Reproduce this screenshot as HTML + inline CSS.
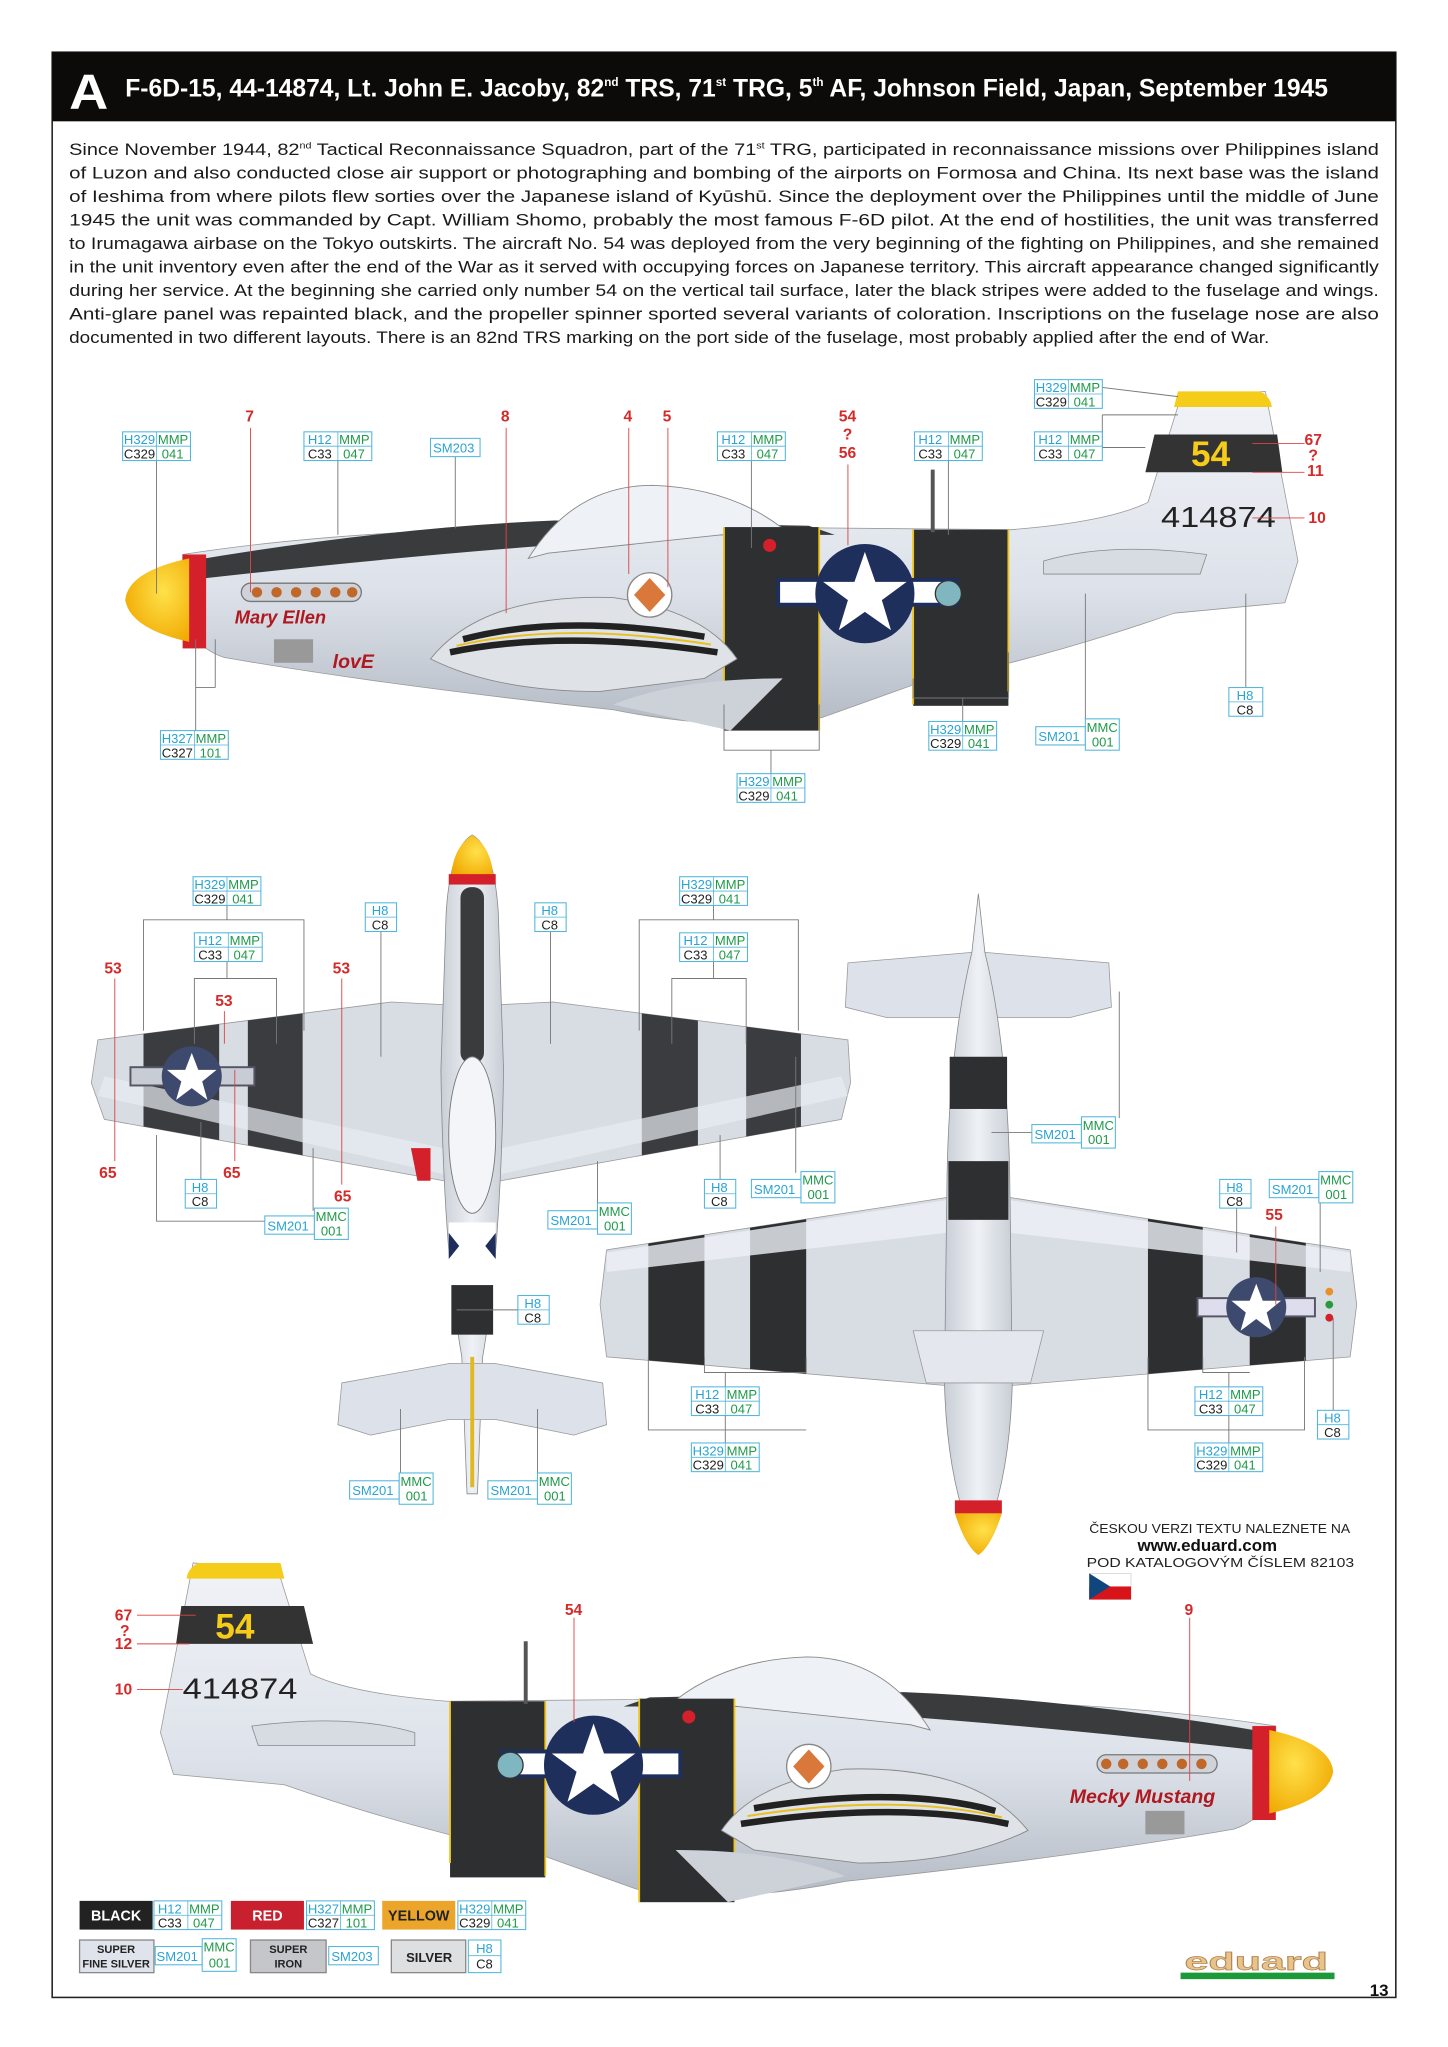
<!DOCTYPE html>
<html><head><meta charset="utf-8"><style>
html,body{margin:0;padding:0;background:#fff}
svg{display:block}
.cb{fill:#fff;stroke:#4fb6dc;stroke-width:.8}
.cl{stroke:#4fb6dc;stroke-width:.6}
text{font-family:"Liberation Sans",sans-serif}
.bl{fill:#2aa3d4;font-size:10px}
.gr{fill:#1f9a4a;font-size:10px}
.bk{fill:#222;font-size:10px}
.rd{fill:#d42a2a;font-size:12px;font-weight:bold}
.ld{stroke:#777;stroke-width:.7;fill:none}
.rl{stroke:#d44;stroke-width:.7}
.bd{fill:#2e2f31}
.ye{stroke:#f0c419;stroke-width:1.4}
</style></head><body>
<svg width="1448" height="2047" viewBox="0 0 1110 1569" preserveAspectRatio="none" xmlns="http://www.w3.org/2000/svg">
<defs>
<linearGradient id="sv" x1="0" y1="0" x2="0" y2="1"><stop offset="0" stop-color="#f1f3f7"/><stop offset=".6" stop-color="#dde2ea"/><stop offset="1" stop-color="#b5bbc5"/></linearGradient>
<linearGradient id="svh" x1="0" y1="0" x2="1" y2="0"><stop offset="0" stop-color="#c9ced6"/><stop offset=".5" stop-color="#eef1f5"/><stop offset="1" stop-color="#c9ced6"/></linearGradient>
<radialGradient id="ys" cx=".6" cy=".4" r=".7"><stop offset="0" stop-color="#ffe14a"/><stop offset="1" stop-color="#f0a800"/></radialGradient>
<g id="side">
 <path d="M140,425 Q300,400 560,404 L775,406 Q850,400 880,385 L905,305 L970,300 L995,430 L985,462 L900,470 Q800,505 700,525 L630,550 Q560,562 470,544 Q300,526 172,504 Q142,494 140,460 Z" fill="url(#sv)" stroke="#999" stroke-width=".6"/>
 <path d="M145,430 Q300,404 425,399 L620,403 L640,410 L560,410 Q400,416 150,444 Z" fill="#3a3b3d"/>
 <path d="M405,428 Q440,372 500,372 Q560,374 600,405 L420,424 Z" fill="#eef2f7" stroke="#888" stroke-width=".7"/>
 <path d="M903,300 L966,300 Q974,304 975,312 L900,312 Z" fill="#f5cc1a"/>
 <path d="M885,333 L979,333 L983,362 L878,362 Z" fill="#333"/>
 <rect x="555" y="404" width="73" height="156" class="bd"/>
 <rect x="700" y="406" width="73" height="135" class="bd"/>
 <line x1="555" y1="404" x2="555" y2="555" class="ye"/><line x1="628" y1="404" x2="628" y2="560" class="ye"/>
 <line x1="700" y1="406" x2="700" y2="540" class="ye"/><line x1="773" y1="406" x2="773" y2="530" class="ye"/>
 <rect x="595" y="443" width="140" height="22" fill="#1f2f5c"/><rect x="598" y="446" width="134" height="16" fill="#fff"/>
 <circle cx="663" cy="455" r="38" fill="#1f2f5c"/>
 <polygon points="663,423 671,446 695,446 676,460 683,483 663,469 643,483 650,460 631,446 655,446" fill="#fff"/>
 <circle cx="727" cy="455" r="10" fill="#7fb6c0" stroke="#333"/>
 <path d="M330,505 Q370,455 470,458 Q540,468 565,505 L540,520 L460,530 Q380,530 330,505Z" fill="#dfe2e7" stroke="#888" stroke-width=".7"/>
 <path d="M355,490 Q430,470 540,488" stroke="#222" stroke-width="5" fill="none"/>
 <path d="M345,500 Q430,482 550,500" stroke="#222" stroke-width="5" fill="none"/>
 <path d="M350,495 Q430,476 545,494" stroke="#e8c020" stroke-width="1.5" fill="none"/>
 <path d="M470,540 Q520,520 600,520 L560,560 Z" fill="#cdd1d8"/>
 <path d="M800,430 Q850,415 925,425 L920,440 L800,440 Z" fill="#d7dbe2" stroke="#888" stroke-width=".6"/>
 <rect x="185" y="447" width="92" height="14" rx="7" fill="#cfd3d9" stroke="#777"/>
 <g fill="#c0682a"><circle cx="197" cy="454" r="4"/><circle cx="212" cy="454" r="4"/><circle cx="227" cy="454" r="4"/><circle cx="242" cy="454" r="4"/><circle cx="257" cy="454" r="4"/><circle cx="270" cy="454" r="4"/></g>
 <rect x="210" y="490" width="30" height="18" fill="#999"/>
 <line x1="715" y1="360" x2="715" y2="408" stroke="#555" stroke-width="3"/>
 <rect x="140" y="425" width="18" height="72" fill="#d4202a"/>
 <path d="M145,428 Q98,438 96,460 Q100,482 145,492 Z" fill="url(#ys)"/>
 <circle cx="498" cy="456" r="17" fill="#fff" stroke="#888"/><polygon points="498,443 510,456 498,469 486,456" fill="#d9783a"/>
 <circle cx="590" cy="418" r="5" fill="#d4202a"/>
</g>
<clipPath id="lw"><path d="M340,770 L300,768 L75,797 L70,830 L80,858 L340,905 L384,905 L645,858 L652,830 L650,797 L424,768 L384,770Z"/></clipPath>
<clipPath id="rw"><path d="M725,918 L465,958 L460,1000 L465,1040 L725,1062 L775,1062 L1035,1040 L1040,1000 L1035,958 L775,918Z"/></clipPath>
</defs>

<rect x="40" y="40" width="1030" height="1491" fill="#fff" stroke="#222" stroke-width="1.2"/>
<rect x="40" y="40" width="1030" height="53" fill="#0d0b0a"/>
<text x="53" y="83" fill="#fff" font-size="38" font-weight="bold" textLength="30" lengthAdjust="spacingAndGlyphs">A</text>
<text x="96" y="74" fill="#fff" font-size="19" font-weight="bold" textLength="922" lengthAdjust="spacingAndGlyphs">F-6D-15, 44-14874, Lt. John E. Jacoby, 82<tspan font-size="9" dy="-8">nd</tspan><tspan dy="8"> TRS, 71</tspan><tspan font-size="9" dy="-8">st</tspan><tspan dy="8"> TRG, 5</tspan><tspan font-size="9" dy="-8">th</tspan><tspan dy="8"> AF, Johnson Field, Japan, September 1945</tspan></text>

<g font-size="13" fill="#1a1a1a">
<text x="53" y="119" textLength="1004" lengthAdjust="spacingAndGlyphs">Since November 1944, 82<tspan font-size="7" dy="-5">nd</tspan><tspan dy="5"> Tactical Reconnaissance Squadron, part of the 71</tspan><tspan font-size="7" dy="-5">st</tspan><tspan dy="5"> TRG, participated in reconnaissance missions over Philippines island</tspan></text>
<text x="53" y="137" textLength="1004" lengthAdjust="spacingAndGlyphs">of Luzon and also conducted close air support or photographing and bombing of the airports on Formosa and China. Its next base was the island</text>
<text x="53" y="155" textLength="1004" lengthAdjust="spacingAndGlyphs">of Ieshima from where  pilots flew sorties over the Japanese island of Kyūshū. Since the deployment over the Philippines until the middle of June</text>
<text x="53" y="173" textLength="1004" lengthAdjust="spacingAndGlyphs">1945 the unit was commanded by Capt. William Shomo, probably the most famous F-6D pilot. At the end of hostilities, the unit was transferred</text>
<text x="53" y="191" textLength="1004" lengthAdjust="spacingAndGlyphs">to Irumagawa airbase on the Tokyo outskirts. The aircraft No. 54 was deployed from the very beginning of the fighting on Philippines, and she remained</text>
<text x="53" y="209" textLength="1004" lengthAdjust="spacingAndGlyphs">in the unit inventory even after the end of the War as it served with occupying forces on Japanese territory. This  aircraft appearance changed significantly</text>
<text x="53" y="227" textLength="1004" lengthAdjust="spacingAndGlyphs">during her service. At the beginning  she carried only number 54 on the vertical tail surface, later the black stripes were added to the fuselage and wings.</text>
<text x="53" y="245" textLength="1004" lengthAdjust="spacingAndGlyphs">Anti-glare panel was repainted black, and the propeller spinner sported several variants of coloration. Inscriptions on the fuselage nose are also</text>
<text x="53" y="263" textLength="920" lengthAdjust="spacingAndGlyphs">documented in two different layouts. There is an 82nd TRS marking on the port side of the fuselage, most probably applied after the end of War.</text>
</g>

<use href="#side"/>
<text x="913" y="357" fill="#f5cc1a" font-size="27" font-weight="bold">54</text>
<text x="890" y="404" fill="#222" font-size="22" textLength="88" lengthAdjust="spacingAndGlyphs">414874</text>
<text x="180" y="478" fill="#b01820" font-size="14" font-style="italic" font-weight="bold" font-family="Liberation Serif,serif">Mary Ellen</text>
<text x="255" y="512" fill="#b01820" font-size="15" font-weight="bold" font-style="italic">lovE</text>

<g class="ld">
<line x1="120" y1="353" x2="120" y2="455"/><line x1="259" y1="353" x2="259" y2="410"/><line x1="349" y1="350" x2="349" y2="405"/>
<line x1="576" y1="353" x2="576" y2="420"/><line x1="727" y1="353" x2="727" y2="410"/>
<line x1="845" y1="297" x2="903" y2="304"/><line x1="845" y1="343" x2="878" y2="343"/><line x1="845" y1="318" x2="903" y2="318"/><line x1="845" y1="318" x2="845" y2="343"/>
<line x1="955" y1="527" x2="955" y2="455"/><line x1="150" y1="560" x2="150" y2="490"/><line x1="150" y1="527" x2="165" y2="527"/><line x1="165" y1="527" x2="165" y2="490"/>
<polyline points="700,520 700,535 773,535 773,500"/><line x1="738" y1="535" x2="738" y2="553"/>
<line x1="832" y1="551" x2="832" y2="455"/>
<polyline points="555,540 555,575 628,575 628,540"/><line x1="591" y1="575" x2="591" y2="593"/>
</g>
<g class="rl"><line x1="192" y1="328" x2="192" y2="454"/><line x1="388" y1="328" x2="388" y2="470"/><line x1="482" y1="328" x2="482" y2="440"/><line x1="512" y1="328" x2="512" y2="450"/><line x1="650" y1="356" x2="650" y2="418"/><line x1="960" y1="340" x2="1000" y2="340"/><line x1="960" y1="362" x2="1000" y2="362"/><line x1="960" y1="397" x2="1000" y2="397"/></g>
<g class="rd"><text x="188" y="323">7</text><text x="384" y="323">8</text><text x="478" y="323">4</text><text x="508" y="323">5</text><text x="643" y="323">54</text><text x="646" y="337">?</text><text x="643" y="351">56</text><text x="1000" y="341">67</text><text x="1003" y="353">?</text><text x="1002" y="365">11</text><text x="1003" y="401">10</text></g>

<path d="M340,770 L300,768 L75,797 L70,830 L80,858 L340,905 L384,905 L645,858 L652,830 L650,797 L424,768 L384,770Z" fill="#d8dce3" stroke="#999" stroke-width=".6"/>
<g clip-path="url(#lw)">
<rect x="110" y="760" width="58" height="160" fill="#3a3c40"/><rect x="190" y="760" width="42" height="160" fill="#3a3c40"/>
<rect x="492" y="760" width="43" height="160" fill="#3a3c40"/><rect x="572" y="760" width="42" height="160" fill="#3a3c40"/>
<path d="M75,840 L340,900 L340,880 L80,825Z" fill="#e8ecf2" opacity=".7"/><path d="M650,840 L384,900 L384,880 L645,825Z" fill="#e8ecf2" opacity=".7"/>
</g>
<rect x="100" y="818" width="95" height="14" fill="#c8ccd4" stroke="#556" stroke-width="1.5"/>
<circle cx="147" cy="825" r="23" fill="#3d4a6e"/><polygon points="147,807 152,820 166,820 155,829 159,843 147,834 135,843 139,829 128,820 142,820" fill="#fff"/>
<path d="M362,640 Q345,650 342,700 L338,820 Q340,960 354,1040 L358,1145 L366,1145 L370,1040 Q384,960 386,820 L382,700 Q379,650 362,640Z" fill="url(#svh)" stroke="#888" stroke-width=".6"/>
<rect x="353" y="680" width="18" height="135" rx="8" fill="#3a3b3d"/>
<ellipse cx="362" cy="870" rx="18" ry="60" fill="#f3f5f8" stroke="#777" stroke-width=".7"/>
<rect x="344" y="937" width="36" height="48" fill="#fff"/><path d="M344,945 l8,10 l-8,10z M380,945 l-8,10 l8,10z" fill="#1f2f5c"/>
<rect x="346" y="985" width="32" height="38" class="bd"/>
<path d="M362,640 Q347,650 346,672 L378,672 Q377,650 362,640Z" fill="url(#ys)"/><rect x="344" y="670" width="36" height="8" fill="#d4202a"/>
<path d="M262,1060 L345,1045 L379,1045 L462,1060 L465,1092 L440,1100 L380,1088 L344,1088 L284,1100 L259,1092Z" fill="#dde2ea" stroke="#999" stroke-width=".6"/>
<line x1="362" y1="1040" x2="362" y2="1140" stroke="#e0b820" stroke-width="3"/>
<path d="M315,880 L330,880 L330,905 L320,905Z" fill="#d4202a"/>
<g class="ld">
<polyline points="110,790 110,705 233,705 233,790"/><line x1="174" y1="694" x2="174" y2="705"/>
<polyline points="149,800 149,750 212,750 212,800"/><line x1="174" y1="737" x2="174" y2="750"/>
<polyline points="490,790 490,705 612,705 612,790"/><line x1="547" y1="694" x2="547" y2="705"/>
<polyline points="515,800 515,750 572,750 572,800"/><line x1="547" y1="737" x2="547" y2="750"/>
<line x1="292" y1="714" x2="292" y2="810"/><line x1="422" y1="714" x2="422" y2="800"/>
<polyline points="120,870 120,936 203,936"/><line x1="154" y1="904" x2="154" y2="860"/><line x1="240" y1="928" x2="240" y2="880"/>
<line x1="458" y1="924" x2="458" y2="890"/><line x1="552" y1="904" x2="552" y2="870"/><line x1="610" y1="899" x2="610" y2="810"/>
<line x1="420" y1="1004" x2="350" y2="1004"/><line x1="307" y1="1131" x2="307" y2="1080"/><line x1="412" y1="1131" x2="412" y2="1080"/>
</g>
<g class="rl"><line x1="88" y1="750" x2="88" y2="890"/><line x1="262" y1="750" x2="262" y2="908"/><line x1="172" y1="775" x2="172" y2="800"/><line x1="180" y1="820" x2="180" y2="890"/></g>
<g class="rd"><text x="80" y="746">53</text><text x="255" y="746">53</text><text x="165" y="771">53</text><text x="76" y="903">65</text><text x="171" y="903">65</text><text x="256" y="921">65</text><text x="970" y="935">55</text></g>

<path d="M725,918 L465,958 L460,1000 L465,1040 L725,1062 L775,1062 L1035,1040 L1040,1000 L1035,958 L775,918Z" fill="#d8dce3" stroke="#999" stroke-width=".6"/>
<g clip-path="url(#rw)">
<rect x="497" y="900" width="43" height="170" class="bd"/><rect x="575" y="900" width="43" height="170" class="bd"/>
<rect x="880" y="900" width="42" height="170" class="bd"/><rect x="958" y="900" width="43" height="170" class="bd"/>
<path d="M465,960 L725,920 L725,945 L465,975Z" fill="#eef1f6" opacity=".8"/><path d="M1035,960 L775,920 L775,945 L1035,975Z" fill="#eef1f6" opacity=".8"/>
</g>
<rect x="918" y="995" width="90" height="14" fill="#dde" stroke="#556" stroke-width="1.5"/>
<circle cx="963" cy="1002" r="23" fill="#3d4a6e"/><polygon points="963,984 968,997 982,997 971,1006 975,1020 963,1011 951,1020 955,1006 944,997 958,997" fill="#fff"/>
<circle cx="1019" cy="990" r="3" fill="#e8902a"/><circle cx="1019" cy="1000" r="3" fill="#2a9a3a"/><circle cx="1019" cy="1010" r="3" fill="#d4202a"/>
<path d="M650,738 L745,730 L755,730 L850,738 L852,772 L820,780 L680,780 L648,772Z" fill="#dde2ea" stroke="#999" stroke-width=".6"/>
<path d="M750,685 L745,730 Q728,800 726,900 L724,1060 Q726,1140 750,1190 Q774,1140 776,1060 L774,900 Q772,800 755,730Z" fill="url(#svh)" stroke="#888" stroke-width=".6"/>
<rect x="728" y="810" width="44" height="40" class="bd"/><rect x="727" y="890" width="46" height="45" class="bd"/>
<path d="M700,1020 L800,1020 L790,1060 L710,1060Z" fill="#e4e8ee" stroke="#999" stroke-width=".6"/>
<rect x="732" y="1150" width="36" height="10" fill="#d4202a"/><path d="M732,1160 L768,1160 Q760,1185 750,1192 Q740,1185 732,1160Z" fill="url(#ys)"/>
<g class="ld">
<line x1="791" y1="868" x2="760" y2="868"/><line x1="858" y1="857" x2="858" y2="760"/><line x1="948" y1="926" x2="948" y2="960"/><line x1="1012" y1="922" x2="1012" y2="975"/>
<polyline points="540,1040 540,1052 618,1052 618,1040"/><polyline points="497,1040 497,1096 618,1096"/><line x1="556" y1="1052" x2="556" y2="1063"/><line x1="556" y1="1085" x2="556" y2="1106"/>
<polyline points="880,1040 880,1096 1000,1096 1000,1040"/><polyline points="922,1040 922,1052 958,1052"/><line x1="942" y1="1052" x2="942" y2="1063"/><line x1="942" y1="1085" x2="942" y2="1106"/>
<line x1="1022" y1="1081" x2="1022" y2="1010"/>
</g>
<line x1="978" y1="940" x2="978" y2="1000" class="rl"/>

<use href="#side" transform="translate(1118,898) scale(-1,1)"/>
<text x="165" y="1256" fill="#f5cc1a" font-size="27" font-weight="bold">54</text>
<text x="140" y="1302" fill="#222" font-size="22" textLength="88" lengthAdjust="spacingAndGlyphs">414874</text>
<text x="820" y="1382" fill="#b01820" font-size="15" font-style="italic" font-weight="bold" font-family="Liberation Serif,serif">Mecky Mustang</text>
<g class="rl"><line x1="440" y1="1240" x2="440" y2="1320"/><line x1="912" y1="1240" x2="912" y2="1365"/><line x1="105" y1="1238" x2="150" y2="1238"/><line x1="105" y1="1260" x2="145" y2="1260"/><line x1="105" y1="1295" x2="140" y2="1295"/></g>
<g class="rd"><text x="433" y="1238">54</text><text x="908" y="1238">9</text><text x="88" y="1242">67</text><text x="92" y="1254">?</text><text x="88" y="1264">12</text><text x="88" y="1299">10</text></g>

<g id="calls">
<g transform="translate(94,331)"><rect width="52" height="22" class="cb"/><line x1="26" y1="0" x2="26" y2="22" class="cl"/><line x1="0" y1="11" x2="52" y2="11" class="cl"/><text x="1" y="9.5" class="bl">H329</text><text x="27" y="9.5" class="gr">MMP</text><text x="1" y="20.5" class="bk">C329</text><text x="30" y="20.5" class="gr">041</text></g>
<g transform="translate(233,331)"><rect width="52" height="22" class="cb"/><line x1="26" y1="0" x2="26" y2="22" class="cl"/><line x1="0" y1="11" x2="52" y2="11" class="cl"/><text x="3" y="9.5" class="bl">H12</text><text x="27" y="9.5" class="gr">MMP</text><text x="3" y="20.5" class="bk">C33</text><text x="30" y="20.5" class="gr">047</text></g>
<g transform="translate(330,336)"><rect width="38" height="14" class="cb"/><text x="2" y="11" class="bl">SM203</text></g>
<g transform="translate(550,331)"><rect width="52" height="22" class="cb"/><line x1="26" y1="0" x2="26" y2="22" class="cl"/><line x1="0" y1="11" x2="52" y2="11" class="cl"/><text x="3" y="9.5" class="bl">H12</text><text x="27" y="9.5" class="gr">MMP</text><text x="3" y="20.5" class="bk">C33</text><text x="30" y="20.5" class="gr">047</text></g>
<g transform="translate(701,331)"><rect width="52" height="22" class="cb"/><line x1="26" y1="0" x2="26" y2="22" class="cl"/><line x1="0" y1="11" x2="52" y2="11" class="cl"/><text x="3" y="9.5" class="bl">H12</text><text x="27" y="9.5" class="gr">MMP</text><text x="3" y="20.5" class="bk">C33</text><text x="30" y="20.5" class="gr">047</text></g>
<g transform="translate(793,291)"><rect width="52" height="22" class="cb"/><line x1="26" y1="0" x2="26" y2="22" class="cl"/><line x1="0" y1="11" x2="52" y2="11" class="cl"/><text x="1" y="9.5" class="bl">H329</text><text x="27" y="9.5" class="gr">MMP</text><text x="1" y="20.5" class="bk">C329</text><text x="30" y="20.5" class="gr">041</text></g>
<g transform="translate(793,331)"><rect width="52" height="22" class="cb"/><line x1="26" y1="0" x2="26" y2="22" class="cl"/><line x1="0" y1="11" x2="52" y2="11" class="cl"/><text x="3" y="9.5" class="bl">H12</text><text x="27" y="9.5" class="gr">MMP</text><text x="3" y="20.5" class="bk">C33</text><text x="30" y="20.5" class="gr">047</text></g>
<g transform="translate(942,527)"><rect width="26" height="22" class="cb"/><line x1="0" y1="11" x2="26" y2="11" class="cl"/><text x="6" y="9.5" class="bl">H8</text><text x="6" y="20.5" class="bk">C8</text></g>
<g transform="translate(123,560)"><rect width="52" height="22" class="cb"/><line x1="26" y1="0" x2="26" y2="22" class="cl"/><line x1="0" y1="11" x2="52" y2="11" class="cl"/><text x="1" y="9.5" class="bl">H327</text><text x="27" y="9.5" class="gr">MMP</text><text x="1" y="20.5" class="bk">C327</text><text x="30" y="20.5" class="gr">101</text></g>
<g transform="translate(712,553)"><rect width="52" height="22" class="cb"/><line x1="26" y1="0" x2="26" y2="22" class="cl"/><line x1="0" y1="11" x2="52" y2="11" class="cl"/><text x="1" y="9.5" class="bl">H329</text><text x="27" y="9.5" class="gr">MMP</text><text x="1" y="20.5" class="bk">C329</text><text x="30" y="20.5" class="gr">041</text></g>
<g transform="translate(794,551)"><rect y="6" width="38" height="14" class="cb"/><rect x="38" width="26" height="24" class="cb"/><text x="2" y="17" class="bl">SM201</text><text x="39" y="10" class="gr">MMC</text><text x="43" y="21" class="gr">001</text></g>
<g transform="translate(565,593)"><rect width="52" height="22" class="cb"/><line x1="26" y1="0" x2="26" y2="22" class="cl"/><line x1="0" y1="11" x2="52" y2="11" class="cl"/><text x="1" y="9.5" class="bl">H329</text><text x="27" y="9.5" class="gr">MMP</text><text x="1" y="20.5" class="bk">C329</text><text x="30" y="20.5" class="gr">041</text></g>

<g transform="translate(148,672)"><rect width="52" height="22" class="cb"/><line x1="26" y1="0" x2="26" y2="22" class="cl"/><line x1="0" y1="11" x2="52" y2="11" class="cl"/><text x="1" y="9.5" class="bl">H329</text><text x="27" y="9.5" class="gr">MMP</text><text x="1" y="20.5" class="bk">C329</text><text x="30" y="20.5" class="gr">041</text></g>
<g transform="translate(521,672)"><rect width="52" height="22" class="cb"/><line x1="26" y1="0" x2="26" y2="22" class="cl"/><line x1="0" y1="11" x2="52" y2="11" class="cl"/><text x="1" y="9.5" class="bl">H329</text><text x="27" y="9.5" class="gr">MMP</text><text x="1" y="20.5" class="bk">C329</text><text x="30" y="20.5" class="gr">041</text></g>
<g transform="translate(149,715)"><rect width="52" height="22" class="cb"/><line x1="26" y1="0" x2="26" y2="22" class="cl"/><line x1="0" y1="11" x2="52" y2="11" class="cl"/><text x="3" y="9.5" class="bl">H12</text><text x="27" y="9.5" class="gr">MMP</text><text x="3" y="20.5" class="bk">C33</text><text x="30" y="20.5" class="gr">047</text></g>
<g transform="translate(521,715)"><rect width="52" height="22" class="cb"/><line x1="26" y1="0" x2="26" y2="22" class="cl"/><line x1="0" y1="11" x2="52" y2="11" class="cl"/><text x="3" y="9.5" class="bl">H12</text><text x="27" y="9.5" class="gr">MMP</text><text x="3" y="20.5" class="bk">C33</text><text x="30" y="20.5" class="gr">047</text></g>
<g transform="translate(280,692)"><rect width="24" height="22" class="cb"/><line x1="0" y1="11" x2="24" y2="11" class="cl"/><text x="5" y="9.5" class="bl">H8</text><text x="5" y="20.5" class="bk">C8</text></g>
<g transform="translate(410,692)"><rect width="24" height="22" class="cb"/><line x1="0" y1="11" x2="24" y2="11" class="cl"/><text x="5" y="9.5" class="bl">H8</text><text x="5" y="20.5" class="bk">C8</text></g>
<g transform="translate(142,904)"><rect width="24" height="22" class="cb"/><line x1="0" y1="11" x2="24" y2="11" class="cl"/><text x="5" y="9.5" class="bl">H8</text><text x="5" y="20.5" class="bk">C8</text></g>
<g transform="translate(540,904)"><rect width="24" height="22" class="cb"/><line x1="0" y1="11" x2="24" y2="11" class="cl"/><text x="5" y="9.5" class="bl">H8</text><text x="5" y="20.5" class="bk">C8</text></g>
<g transform="translate(397,993)"><rect width="24" height="22" class="cb"/><line x1="0" y1="11" x2="24" y2="11" class="cl"/><text x="5" y="9.5" class="bl">H8</text><text x="5" y="20.5" class="bk">C8</text></g>
<g transform="translate(203,926)"><rect y="6" width="38" height="14" class="cb"/><rect x="38" width="26" height="24" class="cb"/><text x="2" y="17" class="bl">SM201</text><text x="39" y="10" class="gr">MMC</text><text x="43" y="21" class="gr">001</text></g>
<g transform="translate(420,922)"><rect y="6" width="38" height="14" class="cb"/><rect x="38" width="26" height="24" class="cb"/><text x="2" y="17" class="bl">SM201</text><text x="39" y="10" class="gr">MMC</text><text x="43" y="21" class="gr">001</text></g>
<g transform="translate(576,898)"><rect y="6" width="38" height="14" class="cb"/><rect x="38" width="26" height="24" class="cb"/><text x="2" y="17" class="bl">SM201</text><text x="39" y="10" class="gr">MMC</text><text x="43" y="21" class="gr">001</text></g>
<g transform="translate(268,1129)"><rect y="6" width="38" height="14" class="cb"/><rect x="38" width="26" height="24" class="cb"/><text x="2" y="17" class="bl">SM201</text><text x="39" y="10" class="gr">MMC</text><text x="43" y="21" class="gr">001</text></g>
<g transform="translate(374,1129)"><rect y="6" width="38" height="14" class="cb"/><rect x="38" width="26" height="24" class="cb"/><text x="2" y="17" class="bl">SM201</text><text x="39" y="10" class="gr">MMC</text><text x="43" y="21" class="gr">001</text></g>
<g transform="translate(791,856)"><rect y="6" width="38" height="14" class="cb"/><rect x="38" width="26" height="24" class="cb"/><text x="2" y="17" class="bl">SM201</text><text x="39" y="10" class="gr">MMC</text><text x="43" y="21" class="gr">001</text></g>
<g transform="translate(973,898)"><rect y="6" width="38" height="14" class="cb"/><rect x="38" width="26" height="24" class="cb"/><text x="2" y="17" class="bl">SM201</text><text x="39" y="10" class="gr">MMC</text><text x="43" y="21" class="gr">001</text></g>
<g transform="translate(935,904)"><rect width="24" height="22" class="cb"/><line x1="0" y1="11" x2="24" y2="11" class="cl"/><text x="5" y="9.5" class="bl">H8</text><text x="5" y="20.5" class="bk">C8</text></g>
<g transform="translate(1010,1081)"><rect width="24" height="22" class="cb"/><line x1="0" y1="11" x2="24" y2="11" class="cl"/><text x="5" y="9.5" class="bl">H8</text><text x="5" y="20.5" class="bk">C8</text></g>
<g transform="translate(530,1063)"><rect width="52" height="22" class="cb"/><line x1="26" y1="0" x2="26" y2="22" class="cl"/><line x1="0" y1="11" x2="52" y2="11" class="cl"/><text x="3" y="9.5" class="bl">H12</text><text x="27" y="9.5" class="gr">MMP</text><text x="3" y="20.5" class="bk">C33</text><text x="30" y="20.5" class="gr">047</text></g>
<g transform="translate(916,1063)"><rect width="52" height="22" class="cb"/><line x1="26" y1="0" x2="26" y2="22" class="cl"/><line x1="0" y1="11" x2="52" y2="11" class="cl"/><text x="3" y="9.5" class="bl">H12</text><text x="27" y="9.5" class="gr">MMP</text><text x="3" y="20.5" class="bk">C33</text><text x="30" y="20.5" class="gr">047</text></g>
<g transform="translate(530,1106)"><rect width="52" height="22" class="cb"/><line x1="26" y1="0" x2="26" y2="22" class="cl"/><line x1="0" y1="11" x2="52" y2="11" class="cl"/><text x="1" y="9.5" class="bl">H329</text><text x="27" y="9.5" class="gr">MMP</text><text x="1" y="20.5" class="bk">C329</text><text x="30" y="20.5" class="gr">041</text></g>
<g transform="translate(916,1106)"><rect width="52" height="22" class="cb"/><line x1="0" y1="11" x2="52" y2="11" class="cl"/><line x1="26" y1="0" x2="26" y2="22" class="cl"/><text x="1" y="9.5" class="bl">H329</text><text x="27" y="9.5" class="gr">MMP</text><text x="1" y="20.5" class="bk">C329</text><text x="30" y="20.5" class="gr">041</text></g>
</g>

<text x="835" y="1175" font-size="10" fill="#222" textLength="200" lengthAdjust="spacingAndGlyphs">ČESKOU VERZI TEXTU NALEZNETE NA</text>
<text x="872" y="1189" font-size="13" font-weight="bold" fill="#111">www.eduard.com</text>
<text x="833" y="1201" font-size="10" fill="#222" textLength="205" lengthAdjust="spacingAndGlyphs">POD KATALOGOVÝM ČÍSLEM 82103</text>
<rect x="835" y="1206" width="32" height="20" fill="#fff" stroke="#ccc" stroke-width=".5"/><rect x="835" y="1216" width="32" height="10" fill="#d7141a"/><polygon points="835,1206 851,1216 835,1226" fill="#11457e"/>

<rect x="61" y="1457" width="56" height="22" fill="#222"/><text x="89" y="1472" fill="#fff" font-size="11" font-weight="bold" text-anchor="middle">BLACK</text>
<g transform="translate(118,1457)"><rect width="52" height="22" class="cb"/><line x1="26" y1="0" x2="26" y2="22" class="cl"/><line x1="0" y1="11" x2="52" y2="11" class="cl"/><text x="3" y="9.5" class="bl">H12</text><text x="27" y="9.5" class="gr">MMP</text><text x="3" y="20.5" class="bk">C33</text><text x="30" y="20.5" class="gr">047</text></g>
<rect x="177" y="1457" width="56" height="22" fill="#c8202e"/><text x="205" y="1472" fill="#fff" font-size="11" font-weight="bold" text-anchor="middle">RED</text>
<g transform="translate(235,1457)"><rect width="52" height="22" class="cb"/><line x1="26" y1="0" x2="26" y2="22" class="cl"/><line x1="0" y1="11" x2="52" y2="11" class="cl"/><text x="1" y="9.5" class="bl">H327</text><text x="27" y="9.5" class="gr">MMP</text><text x="1" y="20.5" class="bk">C327</text><text x="30" y="20.5" class="gr">101</text></g>
<rect x="293" y="1457" width="56" height="22" fill="#eba52a"/><text x="321" y="1472" fill="#222" font-size="11" font-weight="bold" text-anchor="middle">YELLOW</text>
<g transform="translate(351,1457)"><rect width="52" height="22" class="cb"/><line x1="26" y1="0" x2="26" y2="22" class="cl"/><line x1="0" y1="11" x2="52" y2="11" class="cl"/><text x="1" y="9.5" class="bl">H329</text><text x="27" y="9.5" class="gr">MMP</text><text x="1" y="20.5" class="bk">C329</text><text x="30" y="20.5" class="gr">041</text></g>
<rect x="61" y="1487" width="57" height="25" fill="#dfe4ec" stroke="#888"/><text x="89" y="1497" font-size="8.5" font-weight="bold" text-anchor="middle" fill="#222">SUPER</text><text x="89" y="1508" font-size="8.5" font-weight="bold" text-anchor="middle" fill="#222">FINE SILVER</text>
<g transform="translate(119,1486)"><rect y="6" width="36" height="14" class="cb"/><rect x="36" width="26" height="25" class="cb"/><text x="1" y="17" class="bl">SM201</text><text x="37" y="10" class="gr">MMC</text><text x="41" y="22" class="gr">001</text></g>
<rect x="192" y="1487" width="58" height="25" fill="#c4c6ca" stroke="#888"/><text x="221" y="1497" font-size="8.5" font-weight="bold" text-anchor="middle" fill="#222">SUPER</text><text x="221" y="1508" font-size="8.5" font-weight="bold" text-anchor="middle" fill="#222">IRON</text>
<g transform="translate(252,1492)"><rect width="38" height="14" class="cb"/><text x="2" y="11" class="bl">SM203</text></g>
<rect x="300" y="1487" width="57" height="25" fill="#dedfe1" stroke="#888"/><text x="329" y="1504" font-size="10" font-weight="bold" text-anchor="middle" fill="#222">SILVER</text>
<g transform="translate(359,1487)"><rect width="25" height="25" class="cb"/><line x1="0" y1="12" x2="25" y2="12" class="cl"/><text x="6" y="10" class="bl">H8</text><text x="6" y="22" class="bk">C8</text></g>

<text x="963" y="1510" font-size="19" font-weight="bold" fill="#e8c38a" stroke="#b08050" stroke-width=".5" text-anchor="middle" textLength="110" lengthAdjust="spacingAndGlyphs">eduard</text>
<rect x="905" y="1512" width="118" height="5" fill="#1c9a3a"/>
<text x="1050" y="1530" font-size="13" font-weight="bold" fill="#111">13</text>
</svg>
</body></html>
